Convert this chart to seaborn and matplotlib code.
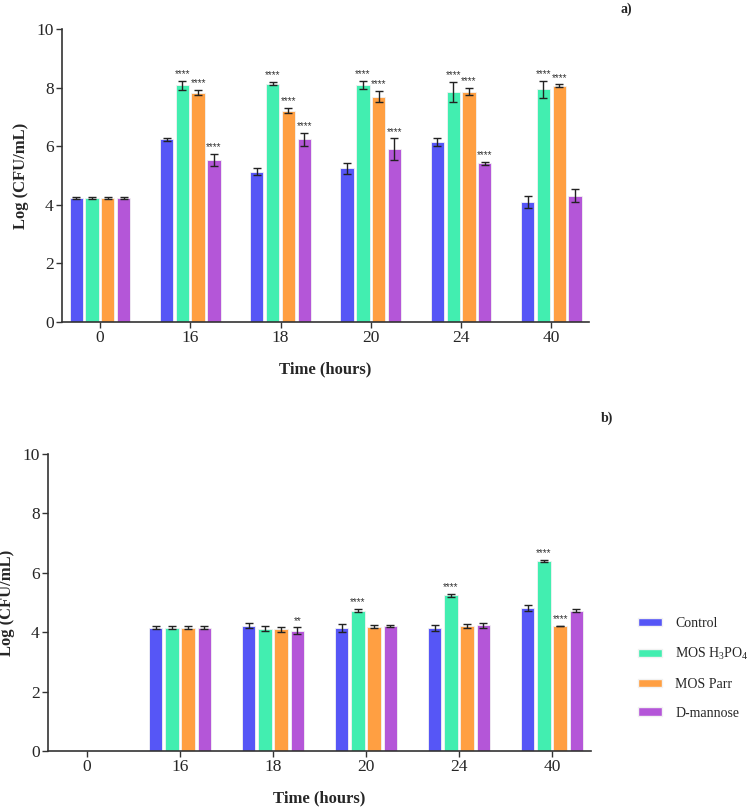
import numpy as np
import pandas as pd
import seaborn as sns
import matplotlib.pyplot as plt
from matplotlib.patches import Patch

# Datos
times = ['0', '16', '18', '20', '24', '40']
groups = ['Control', 'MOS H$_3$PO$_4$', 'MOS Parr', 'D-mannose']
colors = ['#5656F6', '#42EEB0', '#FF9F42', '#B456D8']

# panel a)
a_control = [4.24, 6.24, 5.13, 5.25, 6.15, 4.10]
a_h3po4 = [4.24, 8.09, 8.14, 8.10, 7.86, 7.95]
a_parr = [4.24, 7.84, 7.22, 7.70, 7.87, 8.07]
a_mannose = [4.24, 5.54, 6.25, 5.90, 5.42, 4.32]
a_control_sd = [0.04, 0.04, 0.12, 0.18, 0.12, 0.20]
a_h3po4_sd = [0.04, 0.15, 0.05, 0.13, 0.35, 0.30]
a_parr_sd = [0.04, 0.08, 0.09, 0.20, 0.12, 0.05]
a_mannose_sd = [0.04, 0.20, 0.22, 0.37, 0.06, 0.22]
a_stars = [['', '', '', ''], ['', '****', '****', '****'], ['', '****', '****', '****'],
           ['', '****', '****', '****'], ['', '****', '****', '****'], ['', '****', '****', '']]

# panel b) (sin datos a las 0 h)
b_control = [0, 4.15, 4.22, 4.15, 4.13, 4.80]
b_h3po4 = [0, 4.15, 4.12, 4.72, 5.25, 6.40]
b_parr = [0, 4.15, 4.10, 4.19, 4.20, 4.20]
b_mannose = [0, 4.15, 4.05, 4.22, 4.23, 4.73]
b_control_sd = [np.nan, 0.05, 0.08, 0.14, 0.10, 0.10]
b_h3po4_sd = [np.nan, 0.05, 0.09, 0.05, 0.05, 0.03]
b_parr_sd = [np.nan, 0.05, 0.09, 0.06, 0.06, 0.0]
b_mannose_sd = [np.nan, 0.05, 0.11, 0.03, 0.09, 0.04]
b_stars = [['', '', '', ''], ['', '', '', ''], ['', '', '', '**'],
           ['', '****', '', ''], ['', '****', '', ''], ['', '****', '****', '']]

sns.set_style('ticks')
plt.rcParams['font.family'] = ['Liberation Serif', 'DejaVu Serif']
plt.rcParams['mathtext.fontset'] = 'custom'
plt.rcParams['mathtext.rm'] = 'Liberation Serif'
plt.rcParams['mathtext.default'] = 'regular'


def panel(ax, vals, sds, stars):
    df = pd.DataFrame({
        'time': times * 4,
        'group': [g for g in groups for _ in times],
        'value': sum(vals, []),
    })
    sns.barplot(data=df, x='time', y='value', hue='group', hue_order=groups,
                palette=colors, saturation=1, width=0.70, gap=0.16, errorbar=None,
                edgecolor='#f2f2f2', linewidth=0.6, ax=ax, legend=False)
    bar_conts = list(ax.containers)
    for gi, cont in enumerate(bar_conts):
        for ti, bar in enumerate(cont):
            sd = sds[gi][ti]
            if np.isnan(sd):
                continue
            xc = bar.get_x() + bar.get_width() / 2
            h = bar.get_height()
            ax.errorbar(xc, h, yerr=sd, color='#222222', capsize=3,
                        elinewidth=1, capthick=1, zorder=5)
            s = stars[ti][gi]
            if s:
                ax.text(xc, h + sd + 0.06, s, ha='center', va='bottom',
                        fontsize=7, color='#333333', family='Liberation Sans')
    ax.set_ylim(0, 10)
    ax.set_xlim(-0.42, 5.42)
    ax.set_yticks([0, 2, 4, 6, 8, 10])
    ax.set_xlabel('Time (hours)', fontsize=12, fontweight='bold', labelpad=11)
    ax.set_ylabel('Log (CFU/mL)', fontsize=12, fontweight='bold', labelpad=5)
    ax.tick_params(labelsize=12.5, width=1, length=4, color='#333333', pad=2)
    for sp in ['left', 'bottom']:
        ax.spines[sp].set_linewidth(1.2)
        ax.spines[sp].set_color('#333333')
    sns.despine(ax=ax)


fig = plt.figure(figsize=(7.5, 8.1), dpi=100)
ax1 = fig.add_axes([0.0827, 0.6025, 0.703, 0.3613])
ax2 = fig.add_axes([0.064, 0.0728, 0.724, 0.3667])

panel(ax1, [a_control, a_h3po4, a_parr, a_mannose],
      [a_control_sd, a_h3po4_sd, a_parr_sd, a_mannose_sd], a_stars)
panel(ax2, [b_control, b_h3po4, b_parr, b_mannose],
      [b_control_sd, b_h3po4_sd, b_parr_sd, b_mannose_sd], b_stars)

fig.text(0.827, 0.988, 'a)', fontsize=10, fontweight='bold', ha='left', va='center')
fig.text(0.801, 0.484, 'b)', fontsize=10, fontweight='bold', ha='left', va='center')

handles = [Patch(facecolor=c, edgecolor='#f2f2f2') for c in colors]
fig.legend(handles, groups, loc='center left', bbox_to_anchor=(0.851, 0.175),
           frameon=False, fontsize=10, handlelength=1.7, handleheight=0.55,
           labelspacing=1.14, handletextpad=0.95, borderpad=0, borderaxespad=0)

fig.savefig('out.png', dpi=100)
